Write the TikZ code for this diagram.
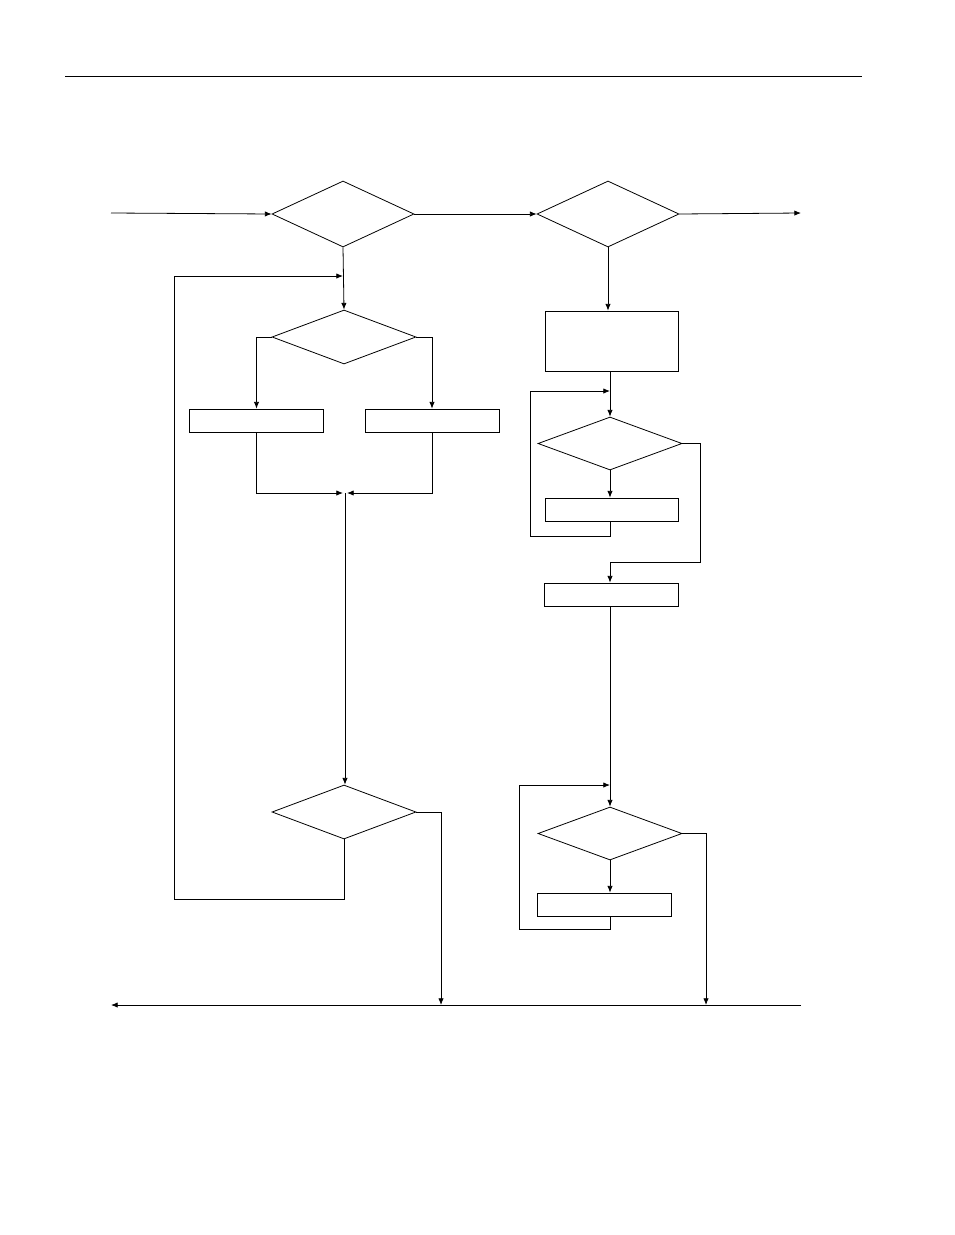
\documentclass[tikz,border=0pt]{standalone}
\usetikzlibrary{shapes.geometric,arrows.meta}
\begin{document}
\begin{tikzpicture}[x=0.75pt,y=-0.75pt,line width=0.6pt,
  dia/.style={draw,diamond,aspect=2.6,inner sep=0pt,minimum width=142*0.75pt,minimum height=60*0.75pt},
  box/.style={draw,rectangle,inner sep=0pt,minimum width=134*0.75pt,minimum height=23*0.75pt},
  arr/.style={-{Latex[length=5pt,width=4pt]}}]
\useasboundingbox (0,0) rectangle (954,1235);
\coordinate (tl1) at (65,76); \coordinate (tl2) at (862,76);
\draw (tl1) -- (tl2);
% nodes
\node[dia,minimum width=142*0.75pt,minimum height=66*0.75pt] (d1) at (343,214) {};
\node[dia,minimum width=142*0.75pt,minimum height=66*0.75pt] (d2) at (608,214) {};
\node[dia,minimum width=144*0.75pt,minimum height=54*0.75pt] (d3) at (344,337) {};
\node[box] (b1) at (256.5,420.5) {};
\node[box] (b2) at (432,420.5) {};
\node[dia,minimum width=144*0.75pt,minimum height=54*0.75pt] (d4) at (344,812) {};
\node[box,minimum height=60*0.75pt,minimum width=133*0.75pt] (b3) at (611.5,341) {};
\node[dia,minimum width=144*0.75pt,minimum height=53*0.75pt] (d5) at (610,443.5) {};
\node[box,minimum width=133*0.75pt] (b4) at (611.5,509.5) {};
\node[box] (b5) at (611,594.5) {};
\node[dia,minimum width=144*0.75pt,minimum height=53*0.75pt] (d6) at (610,833.5) {};
\node[box] (b6) at (604,904.5) {};
\coordinate (in) at (111,213);
\coordinate (out) at (801,213);
\coordinate (bl) at (111,1005);
\coordinate (br) at (801,1005);
\coordinate (j1) at (441,1005);
\coordinate (j2) at (706,1005);
% left column
\draw[arr] (in) -- (d1.west);
\draw[arr] (d1.east) -- (d2.west);
\draw[arr] (d2.east) -- (out);
\draw[arr] (d1.south) -- (d3.north);
\draw[arr] (d3.west) -| (b1.north);
\draw[arr] (d3.east) -| (b2.north);
\coordinate (m) at (345,493);
\draw[arr] (b1.south) |- (343,493);
\draw[arr] (b2.south) |- (347,493);
\draw[arr] (m) -- (m |- d4.north);
\draw[arr] (d4.south) |- (174,899) |- (343,276);
\draw[arr] (d4.east) -| (j1);
\draw[arr] (br) -- (bl);
% right column
\draw[arr] (d2.south) -- (b3.north -| d2.south);
\draw[arr] (b3.south -| d5.north) -- (d5.north);
\draw[arr] (d5.south) -- (b4.north -| d5.south);
\draw[arr] (b4.south -| d5.south) |- (530,536) |- (610,391);
\draw[arr] (d5.east) -| (700,562) -| (b5.north -| d5.south);
\draw[arr] (b5.south -| d6.north) -- (d6.north);
\draw[arr] (d6.south) -- (b6.north -| d6.south);
\draw[arr] (b6.south -| d6.south) |- (519,929) |- (610,785);
\draw[arr] (d6.east) -| (j2);
\end{tikzpicture}
\end{document}
